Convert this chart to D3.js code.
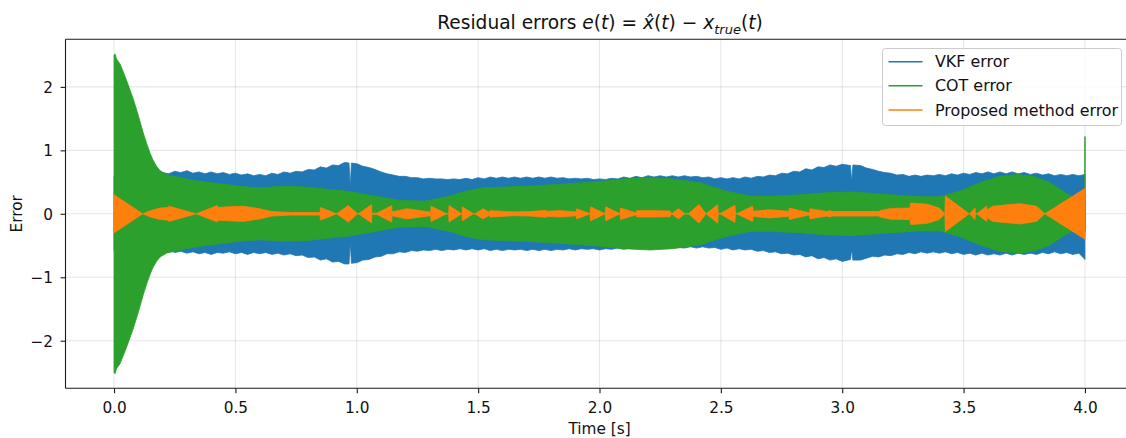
<!DOCTYPE html>
<html>
<head>
<meta charset="utf-8">
<script src="https://cdn.jsdelivr.net/npm/d3@7"></script>
<style>
  html, body { margin: 0; padding: 0; background: #ffffff; }
  svg { display: block; font-family: "DejaVu Sans", sans-serif; }
</style>
</head>
<body>
<svg id="chart" width="1126" height="438"></svg>
<script>
// ---------------- data ----------------
const xTicks = [0, 0.5, 1.0, 1.5, 2.0, 2.5, 3.0, 3.5, 4.0];
const xTickLabels = ["0.0", "0.5", "1.0", "1.5", "2.0", "2.5", "3.0", "3.5", "4.0"];
const yTicks = [-2, -1, 0, 1, 2];
const yTickLabels = ["\u22122", "\u22121", "0", "1", "2"];
const seriesNames = ["VKF error", "COT error", "Proposed method error"];
const seriesColors = ["#1f77b4", "#2ca02c", "#ff7f0e"];

// VKF error envelope, sampled every 0.025 s from 0 to 4 s
const vkfUpper = [
  0.60,0.61,0.60,0.61,0.61,0.62,0.62,0.63,
  0.65,0.63,0.67,0.65,0.68,0.64,0.66,0.63,
  0.66,0.63,0.65,0.62,0.64,0.61,0.63,0.60,
  0.62,0.60,0.64,0.62,0.66,0.64,0.67,0.66,
  0.70,0.69,0.74,0.72,0.77,0.76,0.81,0.80,
  0.79,0.75,0.73,0.70,0.66,0.63,0.61,0.59,
  0.59,0.57,0.57,0.55,0.56,0.55,0.55,0.54,
  0.55,0.54,0.56,0.54,0.57,0.55,0.58,0.56,
  0.58,0.56,0.58,0.56,0.58,0.56,0.58,0.56,
  0.58,0.56,0.57,0.55,0.56,0.55,0.56,0.54,
  0.55,0.54,0.56,0.55,0.58,0.56,0.59,0.57,
  0.60,0.58,0.60,0.58,0.60,0.58,0.60,0.58,
  0.59,0.57,0.58,0.55,0.57,0.55,0.57,0.55,
  0.58,0.56,0.59,0.58,0.61,0.60,0.64,0.63,
  0.67,0.66,0.71,0.69,0.74,0.73,0.77,0.75,
  0.78,0.76,0.77,0.76,0.72,0.70,0.67,0.65,
  0.64,0.61,0.62,0.59,0.61,0.59,0.61,0.60,
  0.62,0.60,0.63,0.61,0.64,0.62,0.65,0.63,
  0.66,0.63,0.66,0.63,0.66,0.63,0.65,0.62,
  0.64,0.61,0.63,0.60,0.62,0.60,0.62,0.60,
  0.62
];
const vkfLower = [
  -0.58,-0.57,-0.58,-0.58,-0.59,-0.58,-0.58,-0.57,
  -0.59,-0.57,-0.61,-0.59,-0.62,-0.60,-0.63,-0.61,
  -0.64,-0.61,-0.62,-0.60,-0.63,-0.61,-0.64,-0.61,
  -0.63,-0.61,-0.64,-0.62,-0.65,-0.63,-0.66,-0.65,
  -0.69,-0.68,-0.73,-0.71,-0.76,-0.75,-0.79,-0.79,
  -0.77,-0.73,-0.72,-0.68,-0.67,-0.63,-0.63,-0.60,
  -0.61,-0.58,-0.59,-0.57,-0.58,-0.56,-0.58,-0.56,
  -0.57,-0.55,-0.57,-0.55,-0.57,-0.55,-0.58,-0.56,
  -0.58,-0.56,-0.57,-0.56,-0.58,-0.56,-0.58,-0.56,
  -0.58,-0.56,-0.57,-0.55,-0.57,-0.55,-0.56,-0.55,
  -0.57,-0.55,-0.56,-0.54,-0.56,-0.54,-0.55,-0.54,
  -0.55,-0.53,-0.55,-0.53,-0.54,-0.53,-0.54,-0.52,
  -0.54,-0.52,-0.54,-0.53,-0.56,-0.54,-0.57,-0.55,
  -0.57,-0.56,-0.59,-0.58,-0.61,-0.60,-0.63,-0.62,
  -0.65,-0.64,-0.68,-0.66,-0.71,-0.69,-0.73,-0.71,
  -0.75,-0.72,-0.73,-0.73,-0.70,-0.67,-0.68,-0.65,
  -0.66,-0.63,-0.64,-0.61,-0.63,-0.60,-0.62,-0.60,
  -0.62,-0.60,-0.63,-0.61,-0.64,-0.62,-0.65,-0.62,
  -0.65,-0.63,-0.65,-0.62,-0.65,-0.62,-0.64,-0.62,
  -0.64,-0.61,-0.63,-0.60,-0.63,-0.61,-0.64,-0.62,
  -0.72
];
const vkfStep = 0.025;
// narrow notches in the VKF band: [time, upper, lower]
const vkfNotches = [
  [0.968, 0.80, -0.79], [0.973, 0.42, -0.44], [0.978, 0.80, -0.78],
  [3.034, 0.76, -0.72], [3.039, 0.50, -0.56], [3.044, 0.77, -0.73]
];

// COT error envelope (time, half-amplitude)
const cotEnvelope = [
  [0, 2.50], [0.004, 2.52], [0.01, 2.44], [0.025, 2.36], [0.05, 2.12], [0.08, 1.80],
  [0.10, 1.55], [0.12, 1.28], [0.135, 1.10], [0.148, 0.96], [0.16, 0.85],
  [0.175, 0.75], [0.19, 0.68], [0.216, 0.62], [0.25, 0.59], [0.325, 0.53],
  [0.40, 0.49], [0.464, 0.46], [0.53, 0.43], [0.60, 0.41], [0.68, 0.43],
  [0.74, 0.43], [0.80, 0.42], [0.87, 0.39], [0.972, 0.35], [1.06, 0.29],
  [1.178, 0.21], [1.281, 0.20], [1.384, 0.28], [1.45, 0.36], [1.52, 0.41],
  [1.726, 0.44], [1.85, 0.47], [2.0, 0.51], [2.1, 0.55], [2.208, 0.57],
  [2.3, 0.55], [2.414, 0.49], [2.52, 0.36], [2.62, 0.28], [2.72, 0.28],
  [2.826, 0.30], [2.93, 0.33], [3.032, 0.345], [3.13, 0.32], [3.238, 0.29],
  [3.32, 0.27], [3.403, 0.27], [3.485, 0.36], [3.58, 0.51], [3.65, 0.59],
  [3.719, 0.62], [3.79, 0.59], [3.856, 0.49], [3.92, 0.33], [3.95, 0.27],
  [4.0, 0.22]
];
const cotFinalSpike = [-0.30, 1.22];

// Proposed method error envelope (time, half-amplitude)
const propEnvelope = [
  [0, 0.30], [0.118, 0.0], [0.15, 0.05], [0.19, 0.09], [0.224, 0.10], [0.226, 0.12],
  [0.338, 0.0], [0.426, 0.13], [0.427, 0.10], [0.47, 0.11], [0.533, 0.12],
  [0.60, 0.08], [0.65, 0.035], [0.732, 0.02], [0.849, 0.02], [0.850, 0.10],
  [0.917, 0.0], [0.965, 0.13], [1.003, 0.0], [1.007, 0.0], [1.061, 0.145],
  [1.062, 0.01], [1.083, 0.01], [1.144, 0.13], [1.145, 0.03], [1.206, 0.08],
  [1.302, 0.03], [1.305, 0.03], [1.306, 0.12], [1.370, 0.0], [1.379, 0.0],
  [1.380, 0.13], [1.432, 0.0], [1.434, 0.0], [1.435, 0.11], [1.480, 0.0],
  [1.487, 0.0], [1.52, 0.08], [1.548, 0.02], [1.549, 0.05], [1.645, 0.03],
  [1.714, 0.035], [1.781, 0.055], [1.782, 0.04], [1.84, 0.05], [1.905, 0.03],
  [1.906, 0.08], [1.961, 0.0], [1.963, 0.11], [2.023, 0.0], [2.026, 0.11],
  [2.084, 0.0], [2.087, 0.09], [2.146, 0.02], [2.152, 0.02], [2.153, 0.05],
  [2.222, 0.05], [2.290, 0.045], [2.297, 0.0], [2.325, 0.08], [2.352, 0.0],
  [2.366, 0.0], [2.41, 0.145], [2.439, 0.0], [2.487, 0.145], [2.489, 0.0],
  [2.496, 0.0], [2.558, 0.135], [2.560, 0.0], [2.565, 0.0], [2.631, 0.12],
  [2.633, 0.04], [2.70, 0.065], [2.778, 0.04], [2.781, 0.04], [2.782, 0.09],
  [2.860, 0.02], [2.866, 0.02], [2.867, 0.08], [2.936, 0.035], [2.949, 0.05],
  [2.96, 0.035], [3.15, 0.035], [3.156, 0.05], [3.20, 0.085], [3.279, 0.09],
  [3.282, 0.17], [3.35, 0.15], [3.40, 0.09], [3.423, 0.0], [3.425, 0.28],
  [3.523, 0.0], [3.525, 0.0], [3.547, 0.09], [3.549, 0.0], [3.554, 0.0],
  [3.595, 0.12], [3.597, 0.06], [3.62, 0.12], [3.732, 0.16], [3.80, 0.12],
  [3.835, 0.0], [4.0, 0.40]
];

// ---------------- layout ----------------
const svg = d3.select("#chart");
const plot = { left: 65.5, right: 1133.5, top: 39.3, bottom: 388.3 };
const x = d3.scaleLinear().domain([-0.2, 4.2]).range([plot.left, plot.right]);
const y = d3.scaleLinear().domain([-2.75, 2.75]).range([plot.bottom, plot.top]);
const FONT = "DejaVu Sans, sans-serif";

svg.append("defs").append("clipPath").attr("id", "clip")
  .append("rect").attr("x", plot.left).attr("y", plot.top)
  .attr("width", plot.right - plot.left).attr("height", plot.bottom - plot.top);

// grid
const grid = svg.append("g");
grid.selectAll("line.gx").data(xTicks).enter().append("line")
  .attr("x1", d => x(d)).attr("x2", d => x(d))
  .attr("y1", plot.top).attr("y2", plot.bottom)
  .attr("stroke", "#b0b0b0").attr("stroke-opacity", 0.3).attr("stroke-width", 1.1);
grid.selectAll("line.gy").data(yTicks).enter().append("line")
  .attr("x1", plot.left).attr("x2", plot.right)
  .attr("y1", d => y(d)).attr("y2", d => y(d))
  .attr("stroke", "#b0b0b0").attr("stroke-opacity", 0.3).attr("stroke-width", 1.1);

const data = svg.append("g").attr("clip-path", "url(#clip)");

// VKF
const vkfGrid = vkfUpper.map((u, i) => ({ t: i * vkfStep, hi: u, lo: vkfLower[i] }))
  .filter(d => d.lo !== undefined);
const notchPts = vkfNotches.map(n => ({ t: n[0], hi: n[1], lo: n[2] }));
const vkf = vkfGrid.filter(d => !notchPts.some(n => Math.abs(n.t - d.t) < 0.01))
  .concat(notchPts).sort((a, b) => a.t - b.t);
data.append("path").datum(vkf)
  .attr("d", d3.area().x(d => x(d.t)).y0(d => y(d.lo)).y1(d => y(d.hi)))
  .attr("fill", seriesColors[0]).attr("stroke", seriesColors[0]).attr("stroke-width", 0.8);

// COT
data.append("path").datum(cotEnvelope)
  .attr("d", d3.area().x(d => x(d[0])).y0(d => y(-d[1])).y1(d => y(d[1])))
  .attr("fill", seriesColors[1]).attr("stroke", seriesColors[1]).attr("stroke-width", 0.8);
data.append("line")
  .attr("x1", x(4.0)).attr("x2", x(4.0))
  .attr("y1", y(cotFinalSpike[0])).attr("y2", y(cotFinalSpike[1]))
  .attr("stroke", seriesColors[1]).attr("stroke-width", 1.5);

// Proposed
data.append("path").datum(propEnvelope)
  .attr("d", d3.area().x(d => x(d[0])).y0(d => y(-d[1])).y1(d => y(d[1])))
  .attr("fill", seriesColors[2]).attr("stroke", seriesColors[2]).attr("stroke-width", 0.8);

// spines
const spineColor = "#1a1a1a";
svg.append("line").attr("x1", plot.left).attr("x2", plot.left).attr("y1", plot.top).attr("y2", plot.bottom)
  .attr("stroke", spineColor).attr("stroke-width", 1.1);
svg.append("line").attr("x1", plot.left).attr("x2", plot.right).attr("y1", plot.bottom).attr("y2", plot.bottom)
  .attr("stroke", spineColor).attr("stroke-width", 1.1);
svg.append("line").attr("x1", plot.left).attr("x2", plot.right).attr("y1", plot.top).attr("y2", plot.top)
  .attr("stroke", spineColor).attr("stroke-width", 1.1);
svg.append("line").attr("x1", plot.right).attr("x2", plot.right).attr("y1", plot.top).attr("y2", plot.bottom)
  .attr("stroke", spineColor).attr("stroke-width", 1.1);

// axes
const xAxis = d3.axisBottom(x).tickValues(xTicks).tickFormat((d, i) => xTickLabels[i])
  .tickSizeOuter(0).tickSizeInner(4.9).tickPadding(4.9);
const gx = svg.append("g").attr("transform", `translate(0,${plot.bottom})`).call(xAxis);
gx.select(".domain").remove();
gx.selectAll(".tick line").attr("stroke", spineColor).attr("stroke-width", 1.1);
gx.selectAll(".tick text").attr("font-family", FONT).attr("font-size", "15.3px").attr("fill", "#111")
  .attr("dy", null).attr("y", 24.4);

const yAxis = d3.axisLeft(y).tickValues(yTicks).tickFormat((d, i) => yTickLabels[i])
  .tickSizeOuter(0).tickSizeInner(4.9).tickPadding(4.9);
const gy = svg.append("g").attr("transform", `translate(${plot.left},0)`).call(yAxis);
gy.select(".domain").remove();
gy.selectAll(".tick line").attr("stroke", spineColor).attr("stroke-width", 1.1);
gy.selectAll(".tick text").attr("font-family", FONT).attr("font-size", "15.3px").attr("fill", "#111")
  .attr("x", -12.5).attr("dy", "0.36em");

// labels
svg.append("text").attr("x", 599.5).attr("y", 434).attr("text-anchor", "middle")
  .attr("font-family", FONT).attr("font-size", "15.3px").attr("fill", "#111").text("Time [s]");
svg.append("text").attr("transform", "translate(21.5,213.8) rotate(-90)").attr("text-anchor", "middle")
  .attr("font-family", FONT).attr("font-size", "15.3px").attr("fill", "#111").text("Error");

// title with math
const TITLE_SIZE = 18.6;
const title = svg.append("text").attr("x", 600).attr("y", 29).attr("text-anchor", "middle")
  .attr("font-family", FONT).attr("font-size", TITLE_SIZE + "px").attr("fill", "#111");
const parts = [
  ["Residual errors ", "normal", 0, 1],
  ["e", "italic", 0, 1], ["(", "normal", 0, 1], ["t", "italic", 0, 1], [")", "normal", 0, 1],
  [" = ", "normal", 0, 1],
  ["x\u0302", "italic", 0, 1], ["(", "normal", 0, 1], ["t", "italic", 0, 1], [")", "normal", 0, 1],
  [" \u2212 ", "normal", 0, 1],
  ["x", "italic", 0, 1], ["true", "italic", 4.5, 0.7], ["(", "normal", -4.5, 1], ["t", "italic", 0, 1], [")", "normal", 0, 1]
];
parts.forEach(p => {
  title.append("tspan").attr("font-style", p[1]).attr("dy", p[2])
    .attr("font-size", p[3] === 1 ? null : (TITLE_SIZE * p[3]) + "px").text(p[0]);
});

// legend
const lg = svg.append("g");
lg.append("rect").attr("x", 882.5).attr("y", 48.5).attr("width", 239).attr("height", 77).attr("rx", 3)
  .attr("fill", "#ffffff").attr("fill-opacity", 0.8).attr("stroke", "#cccccc").attr("stroke-width", 1);
seriesNames.forEach((name, i) => {
  const cy = 61.7 + i * 24.1;
  lg.append("line").attr("x1", 888.5).attr("x2", 922.5).attr("y1", cy).attr("y2", cy)
    .attr("stroke", seriesColors[i]).attr("stroke-width", 1.5);
  lg.append("text").attr("x", 935).attr("y", cy + 5.6).attr("font-family", FONT)
    .attr("font-size", "15.9px").attr("fill", "#111").text(name);
});
</script>
</body>
</html>
